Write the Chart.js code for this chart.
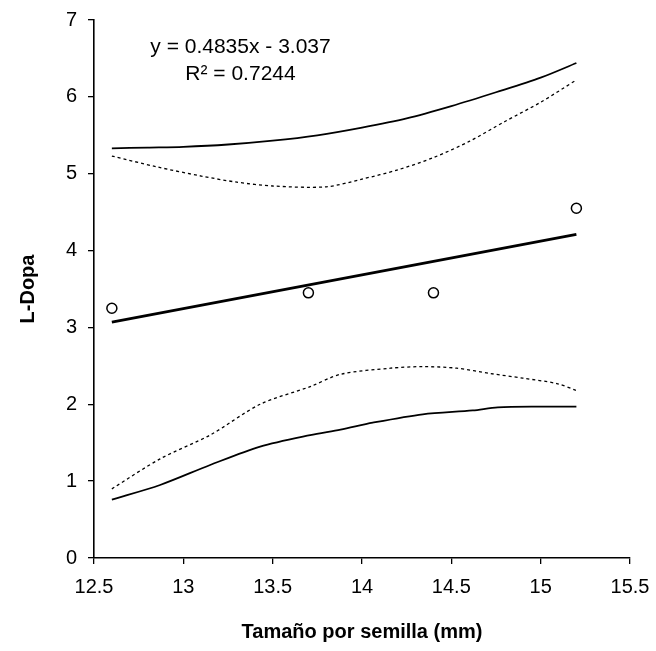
<!DOCTYPE html>
<html>
<head>
<meta charset="utf-8">
<script src="https://cdn.jsdelivr.net/npm/chart.js@4"></script>
<style>
  body { margin: 0; background: #fff; }
  #wrap { width: 656px; height: 651px; }
</style>
</head>
<body>
<div id="wrap"><canvas id="ldopaChart"></canvas></div>
<script>
// Datos observados
const sizeX = [12.6, 13.7, 14.4, 15.2];
const ldopaY = [3.25, 3.45, 3.45, 4.55];

// Recta de regresion (extremos)
const trendX = [12.6, 15.2];
const trendY = [3.07, 4.21];

// Banda exterior (linea continua)
const outerX = [12.6, 12.8, 13.0, 13.25, 13.5, 13.75, 14.0, 14.25, 14.5, 14.75, 15.0, 15.2];
const outerUpper = [5.33, 5.34, 5.35, 5.38, 5.43, 5.5, 5.6, 5.72, 5.88, 6.06, 6.25, 6.44];
const lowerSolidX = [12.6, 12.87, 13.15, 13.43, 13.71, 13.88, 14.06, 14.34, 14.62, 14.76, 15.0, 15.2];
const outerLower = [0.76, 0.95, 1.21, 1.45, 1.6, 1.67, 1.76, 1.87, 1.92, 1.96, 1.97, 1.97];

// Banda interior (punteada)
const innerUpperX = [12.6, 12.85, 13.1, 13.3, 13.5, 13.8, 14.0, 14.2, 14.4, 14.6, 14.8, 15.0, 15.2];
const innerUpper = [5.23, 5.09, 4.97, 4.89, 4.84, 4.83, 4.93, 5.05, 5.21, 5.42, 5.68, 5.93, 6.22];
const innerLowerX = [12.6, 12.87, 13.15, 13.43, 13.71, 13.88, 14.16, 14.34, 14.53, 14.72, 14.9, 15.09, 15.2];
const innerLower = [0.9, 1.29, 1.6, 2.0, 2.23, 2.39, 2.47, 2.49, 2.47, 2.4, 2.34, 2.27, 2.18];

const xTicks = [12.5, 13, 13.5, 14, 14.5, 15, 15.5];
const yTicks = [0, 1, 2, 3, 4, 5, 6, 7];

const eqLines = ['y = 0.4835x - 3.037', 'R² = 0.7244'];

function pts(xs, ys) {
    return xs.map((x, i) => ({ x: x, y: ys[i] }));
}

function lineSet(xs, ys, width, dash) {
    return {
        data: pts(xs, ys),
        showLine: true,
        borderColor: '#000',
        borderWidth: width,
        borderDash: dash,
        pointRadius: 0,
        fill: false,
        tension: 0.3
    };
}

const FONT = '"Liberation Sans", Arial, sans-serif';

// texto de la ecuacion
const eqPlugin = {
    id: 'eqText',
    afterDatasetsDraw(chart) {
        const c = chart.ctx;
        const xs = chart.scales.x, ys = chart.scales.y;
        c.save();
        c.fillStyle = '#000';
        c.font = '21px ' + FONT;
        c.textAlign = 'center';
        c.textBaseline = 'middle';
        const cx = xs.getPixelForValue(13.32);
        c.fillText(eqLines[0], cx, ys.getPixelForValue(6.64));
        c.fillText(eqLines[1], cx, ys.getPixelForValue(6.29));
        c.restore();
    }
};

new Chart(document.getElementById('ldopaChart'), {
    type: 'scatter',
    data: {
        datasets: [
            lineSet(outerX, outerUpper, 1.8, []),
            lineSet(lowerSolidX, outerLower, 1.8, []),
            lineSet(innerUpperX, innerUpper, 1.3, [3, 3]),
            lineSet(innerLowerX, innerLower, 1.3, [3, 3]),
            Object.assign(lineSet(trendX, trendY, 2.8, []), { tension: 0 }),
            {
                data: pts(sizeX, ldopaY),
                pointStyle: 'circle',
                pointRadius: 5,
                pointBorderWidth: 1.5,
                pointBorderColor: '#000',
                pointBackgroundColor: '#fff'
            }
        ]
    },
    options: {
        responsive: true,
        maintainAspectRatio: false,
        animation: false,
        layout: { padding: { top: 20, right: 26, left: 12, bottom: 3 } },
        plugins: {
            legend: { display: false },
            tooltip: { enabled: false }
        },
        scales: {
            x: {
                type: 'linear',
                min: 12.5,
                max: 15.5,
                afterBuildTicks: s => { s.ticks = xTicks.map(v => ({ value: v })); },
                afterFit: s => { s.height = 90; s.paddingRight = 0; s.paddingLeft = 0; },
                grid: { display: true, drawOnChartArea: false, drawTicks: true, tickLength: 6, color: '#000', lineWidth: 1.3 },
                border: { display: true, color: '#000', width: 1.6 },
                ticks: { color: '#000', font: { size: 20, family: FONT }, padding: 11, maxRotation: 0, callback: v => String(v) },
                title: { display: true, text: 'Tamaño por semilla (mm)', color: '#000', font: { size: 20, weight: 'bold', family: FONT } }
            },
            y: {
                min: 0,
                max: 7,
                afterBuildTicks: s => { s.ticks = yTicks.map(v => ({ value: v })); },
                afterFit: s => { s.width = 82; s.paddingTop = 0; s.paddingBottom = 0; },
                grid: { display: true, drawOnChartArea: false, drawTicks: true, tickLength: 6, color: '#000', lineWidth: 1.3 },
                border: { display: true, color: '#000', width: 1.6 },
                ticks: { color: '#000', font: { size: 20, family: FONT }, padding: 11, callback: v => String(v) },
                title: { display: true, text: 'L-Dopa', color: '#000', font: { size: 20, weight: 'bold', family: FONT } }
            }
        }
    },
    plugins: [eqPlugin]
});
</script>
</body>
</html>
